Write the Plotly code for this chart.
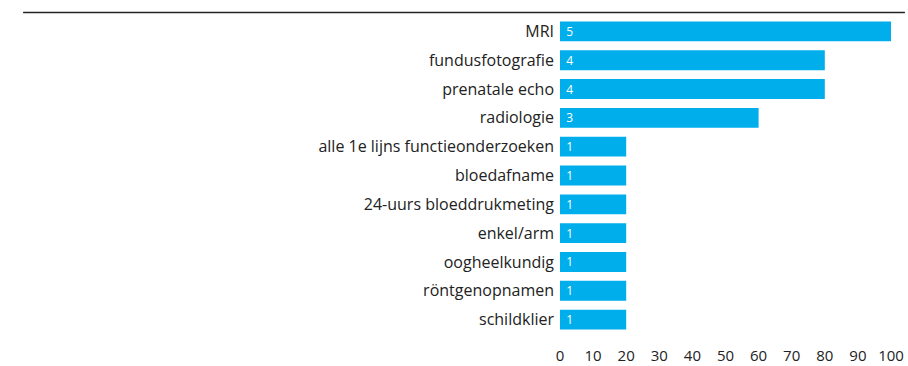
import plotly.graph_objects as go

# Onderzoeken, aantal meldingen en percentage
categories = [
    "MRI",
    "fundusfotografie",
    "prenatale echo",
    "radiologie",
    "alle 1e lijns functieonderzoeken",
    "bloedafname",
    "24-uurs bloeddrukmeting",
    "enkel/arm",
    "oogheelkundig",
    "röntgenopnamen",
    "schildklier",
]
counts = [5, 4, 4, 3, 1, 1, 1, 1, 1, 1, 1]
percentages = [100, 80, 80, 60, 20, 20, 20, 20, 20, 20, 20]
x_ticks = [0, 10, 20, 30, 40, 50, 60, 70, 80, 90, 100]

BAR_COLOR = "#01AEEC"
TEXT_COLOR = "#222222"
FONT = "Open Sans"

fig = go.Figure(
    go.Bar(
        x=percentages,
        y=categories,
        orientation="h",
        marker=dict(color=BAR_COLOR, line=dict(width=0)),
        width=0.69,
        text=[str(c) for c in counts],
        # a non-breaking space gives the count a little room from the bar start
        texttemplate="\u00a0%{text}",
        textposition="inside",
        insidetextanchor="start",
        textangle=0,
        textfont=dict(family=FONT, size=12, color="white"),
        constraintext="none",
        hoverinfo="skip",
    )
)

fig.update_layout(
    width=908,
    height=366,
    margin=dict(l=560, r=17, t=16.5, b=31.5),
    paper_bgcolor="white",
    plot_bgcolor="white",
    showlegend=False,
    font=dict(family=FONT, size=16, color=TEXT_COLOR),
    xaxis=dict(
        range=[0, 100],
        tickvals=x_ticks,
        ticktext=[str(v) for v in x_ticks],
        showgrid=False,
        zeroline=False,
        showline=False,
        ticks="",
        tickfont=dict(family=FONT, size=15, color=TEXT_COLOR),
        ticklabelstandoff=11,
        automargin=False,
        fixedrange=True,
    ),
    yaxis=dict(
        categoryorder="array",
        categoryarray=categories,
        autorange="reversed",
        showgrid=False,
        zeroline=False,
        showline=False,
        ticks="",
        tickfont=dict(family=FONT, size=16, color=TEXT_COLOR),
        ticklabelstandoff=5,
        automargin=False,
        fixedrange=True,
    ),
    shapes=[
        dict(
            type="line",
            xref="paper",
            yref="paper",
            x0=-1.622,
            x1=1.042,
            y0=1.0142,
            y1=1.0142,
            line=dict(color=TEXT_COLOR, width=1.5),
        )
    ],
)

fig.write_html("out.html")
